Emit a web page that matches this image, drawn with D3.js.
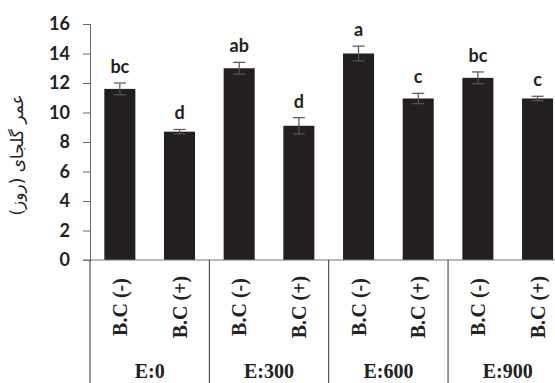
<!DOCTYPE html>
<html><head><meta charset="utf-8">
<script src="https://cdn.jsdelivr.net/npm/d3@7"></script>
<style>body{margin:0;background:#fff}</style>
</head><body>
<svg id="c" width="555" height="383"></svg>
<script>
const groups = ["E:0","E:300","E:600","E:900"];
const treatments = ["B.C (-)","B.C (+)"];
const values = [11.6, 8.7, 13.0, 9.1, 14.0, 10.95, 12.35, 10.95];
const errors = [0.4, 0.15, 0.4, 0.55, 0.5, 0.35, 0.4, 0.15];
const letters = ["bc","d","ab","d","a","c","bc","c"];
const yTicks = [0,2,4,6,8,10,12,14,16];
const yTitle = "عمر گلجای (روز)";

const svg = d3.select("#c");
const keys = [];
groups.forEach(g => treatments.forEach(t => keys.push(g + "|" + t)));

const x = d3.scaleBand().domain(keys).range([90, 567.4]).paddingInner(0.48).paddingOuter(0.24);
const y = d3.scaleLinear().domain([0,16]).range([260, 24]);

// y axis
const yAxis = svg.append("g").attr("transform","translate(90,0)")
  .call(d3.axisLeft(y).tickValues(yTicks).tickSize(7).tickPadding(13));
yAxis.select(".domain").attr("stroke","#666");
yAxis.selectAll(".tick line").attr("stroke","#666");
yAxis.selectAll(".tick text").attr("font-family","Lato, 'Open Sans', sans-serif")
  .attr("font-weight","bold").attr("font-size",18).attr("fill","#222");

// bars
svg.append("g").selectAll("rect").data(values).join("rect")
  .attr("x",(d,i)=>x(keys[i])).attr("width",x.bandwidth())
  .attr("y",d=>y(d)).attr("height",d=>y(0)-y(d))
  .attr("fill","#231f20");

// error bars
const eg = svg.append("g").attr("stroke","#555").attr("stroke-width",1.2);
values.forEach((v,i)=>{
  const cx = x(keys[i]) + x.bandwidth()/2;
  eg.append("line").attr("x1",cx).attr("x2",cx).attr("y1",y(v+errors[i])).attr("y2",y(v-errors[i]));
  eg.append("line").attr("x1",cx-6).attr("x2",cx+6).attr("y1",y(v+errors[i])).attr("y2",y(v+errors[i]));
  eg.append("line").attr("x1",cx-6).attr("x2",cx+6).attr("y1",y(v-errors[i])).attr("y2",y(v-errors[i]));
});

// letters
svg.append("g").selectAll("text").data(letters).join("text")
  .attr("x",(d,i)=>x(keys[i]) + x.bandwidth()/2)
  .attr("y",(d,i)=>y(values[i]+errors[i]) - 10)
  .attr("text-anchor","middle")
  .attr("font-family","Lato, 'Open Sans', sans-serif").attr("font-weight","bold")
  .attr("font-size",18).attr("fill","#222").text(d=>d);

// x axis line
svg.append("line").attr("x1",83).attr("x2",555).attr("y1",y(0)).attr("y2",y(0))
  .attr("stroke","#777").attr("stroke-width",1.2);

// group separators
const step = x.step();
groups.forEach((g,k)=>{
  const gx = 90 + k*2*step;
  svg.append("line").attr("x1",gx).attr("x2",gx).attr("y1",y(0)).attr("y2",383)
    .attr("stroke","#333").attr("stroke-width",1);
});

// category labels
svg.append("g").selectAll("text").data(keys).join("text")
  .attr("transform",d=>`translate(${x(d)+x.bandwidth()/2+7},307) rotate(-90)`)
  .attr("text-anchor","middle")
  .attr("font-family","'Liberation Serif', 'Times New Roman', serif").attr("font-weight","bold")
  .attr("font-size",20).attr("fill","#222").text(d=>d.split("|")[1]);

// group labels
svg.append("g").selectAll("text").data(groups).join("text")
  .attr("x",(d,k)=>90 + k*2*step + step)
  .attr("y",378).attr("text-anchor","middle")
  .attr("font-family","'Liberation Serif', 'Times New Roman', serif").attr("font-weight","bold")
  .attr("font-size",20).attr("fill","#222").text(d=>d);

// y title
svg.append("text").attr("transform","translate(23,155) rotate(-90)")
  .attr("text-anchor","middle").attr("font-family","'DejaVu Sans', sans-serif")
  .attr("font-size",17).attr("fill","#222").attr("direction","rtl").text(yTitle);
</script>
</body></html>
